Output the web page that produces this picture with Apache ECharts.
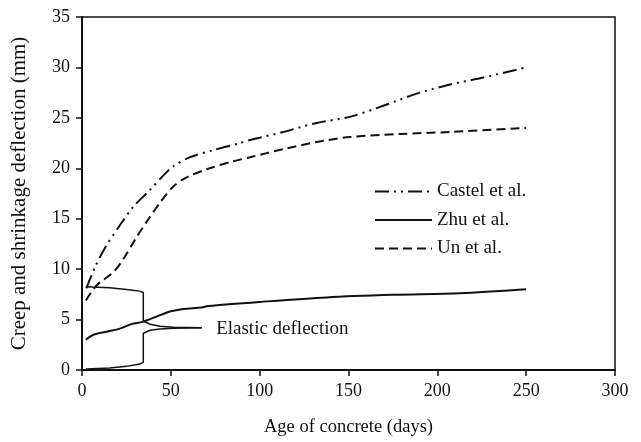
<!DOCTYPE html>
<html>
<head>
<meta charset="utf-8">
<script src="https://cdn.jsdelivr.net/npm/echarts@6/dist/echarts.min.js"></script>
<style>html,body{margin:0;padding:0;background:#fff}#c{width:641px;height:442px}</style>
</head>
<body>
<div id="c"></div>
<script>
// ---- data ----
var xTicks = [0, 50, 100, 150, 200, 250, 300];
var yTicks = [0, 5, 10, 15, 20, 25, 30, 35];
var seriesNames = ['Castel et al.', 'Zhu et al.', 'Un et al.'];

var castelData = [[2.4,8.1],[5.4,9.4],[7.3,10.2],[12.9,12.1],[22.3,14.6],[28.9,16.2],[38,17.8],[45.8,19.3],[51.4,20.2],[60.8,21.1],[73.9,21.8],[88.9,22.5],[94.6,22.8],[113.3,23.6],[132.1,24.5],[150.8,25.1],[169.6,26.2],[188.4,27.4],[207.1,28.3],[225.9,29.0],[250,30.0]];
var zhuData = [[2.2,3.0],[6.4,3.5],[13.9,3.8],[21.4,4.1],[27,4.5],[34.5,4.8],[42,5.3],[49.5,5.8],[57,6.05],[67.4,6.2],[71,6.34],[100.2,6.75],[137.7,7.2],[175.2,7.45],[212.7,7.6],[250,8.0]];
var unData = [[2.2,6.9],[8.3,8.4],[17.6,9.7],[23.3,11.0],[30.8,13.2],[36.4,14.7],[43.9,16.6],[51.4,18.2],[58.9,19.1],[70.2,19.9],[85.2,20.7],[94.6,21.1],[113.3,21.9],[132.1,22.6],[150.8,23.1],[179,23.4],[207,23.6],[250,24.0]];
// elastic deflection braces
var braceUpper = [[2.2,8.25],[15.6,8.15],[25,7.99],[32.5,7.82],[34.5,7.69],[34.5,4.86],[35.5,4.73],[38.3,4.54],[43.9,4.34],[51.4,4.24],[67.4,4.2]];
var braceLower = [[2.2,0.1],[15.6,0.2],[25,0.36],[32.5,0.59],[34.5,0.79],[34.5,3.65],[35.5,3.78],[38.3,3.94],[43.9,4.07],[51.4,4.14],[67.4,4.2]];
var annotationText = 'Elastic deflection';
var annotationPoint = [[75.5, 4.1]];

var FONT = 'Liberation Serif';
var INK = '#111';

var chart = echarts.init(document.getElementById('c'), null, {renderer: 'canvas'});
chart.setOption({
  animation: false,
  backgroundColor: '#fff',
  grid: {left: 82, right: 26, top: 17, bottom: 70, show: true, borderColor: INK, borderWidth: 1.5, containLabel: false},
  legend: {
    data: seriesNames,
    orient: 'vertical',
    left: 369, top: 177,
    itemWidth: 57, itemHeight: 19, itemGap: 9.5,
    itemStyle: {opacity: 0},
    textStyle: {fontFamily: FONT, fontSize: 19, color: INK}
  },
  xAxis: {
    type: 'value', min: xTicks[0], max: xTicks[xTicks.length-1], interval: 50,
    name: 'Age of concrete (days)', nameLocation: 'middle', nameGap: 48,
    nameTextStyle: {fontFamily: FONT, fontSize: 18.5, color: INK},
    axisLine: {show: true, lineStyle: {color: INK, width: 2}},
    axisTick: {show: true, length: 6, lineStyle: {color: INK, width: 1.5}},
    axisLabel: {fontFamily: FONT, fontSize: 18, color: INK, margin: 12},
    splitLine: {show: false}
  },
  yAxis: {
    type: 'value', min: yTicks[0], max: yTicks[yTicks.length-1], interval: 5,
    name: 'Creep and shrinkage deflection (mm)', nameLocation: 'middle', nameGap: 52,
    nameTextStyle: {fontFamily: FONT, fontSize: 21, color: INK},
    axisLine: {show: true, lineStyle: {color: INK, width: 2}},
    axisTick: {show: true, length: 6, lineStyle: {color: INK, width: 1.5}},
    axisLabel: {fontFamily: FONT, fontSize: 18, color: INK, margin: 12},
    splitLine: {show: false}
  },
  series: [
    {name: seriesNames[0], type: 'line', data: castelData, symbol: 'none', smooth: 0.3,
     lineStyle: {color: INK, width: 2, type: [14, 5, 2, 5, 2, 5]}, itemStyle: {color: INK}},
    {name: seriesNames[1], type: 'line', data: zhuData, symbol: 'none', smooth: 0.3,
     lineStyle: {color: INK, width: 2, type: 'solid'}, itemStyle: {color: INK}},
    {name: seriesNames[2], type: 'line', data: unData, symbol: 'none', smooth: 0.3,
     lineStyle: {color: INK, width: 2, type: [9, 5]}, itemStyle: {color: INK}},
    {name: 'braceU', type: 'line', data: braceUpper, symbol: 'none', smooth: false,
     lineStyle: {color: INK, width: 1.5}, silent: true},
    {name: 'braceL', type: 'line', data: braceLower, symbol: 'none', smooth: false,
     lineStyle: {color: INK, width: 1.5}, silent: true},
    {name: 'note', type: 'scatter', data: annotationPoint, symbolSize: 0, silent: true,
     itemStyle: {opacity: 1, color: INK},
     label: {show: true, position: 'right', distance: 0, formatter: annotationText,
             fontFamily: FONT, fontSize: 19, color: INK}}
  ]
});
</script>
</body>
</html>
